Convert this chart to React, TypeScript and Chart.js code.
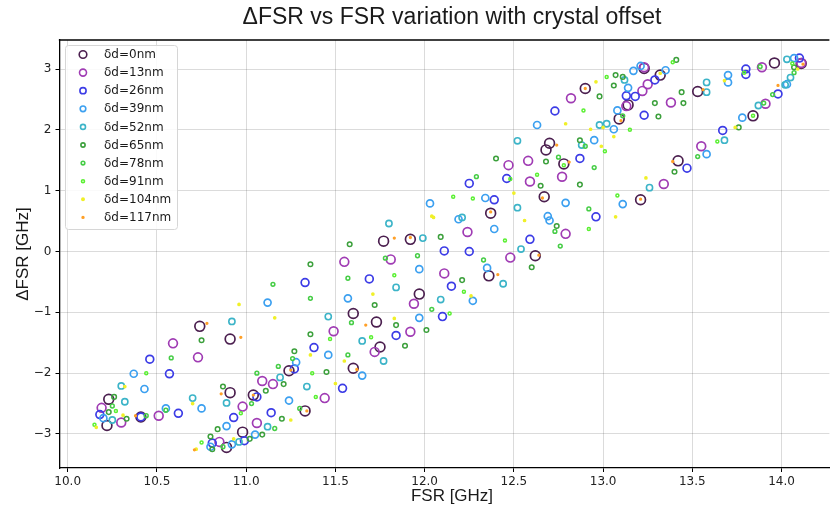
import { useEffect, useRef } from "react";
import { Chart, registerables } from "chart.js";

Chart.register(...registerables);

// Crystal offsets (nm), one scatter series each
const offsetsNm = [0, 13, 26, 39, 52, 65, 78, 91, 104, 117];

// [FSR GHz, ΔFSR GHz] samples per offset
const d0: [number, number][] = [[10.22,-2.86],[10.23,-2.43],[10.41,-2.72],[10.74,-1.23],[10.91,-1.44],[10.91,-2.32],[11.04,-2.36],[10.98,-2.97],[10.89,-3.22],[11.24,-1.96],[11.33,-2.62],[11.60,-1.02],[11.60,-1.92],[11.73,-1.16],[11.75,-1.57],[11.77,0.17],[11.92,0.20],[11.97,-0.70],[12.36,-0.40],[12.37,0.63],[12.62,-0.07],[12.67,0.90],[12.68,1.67],[12.70,1.78],[12.78,1.44],[12.90,2.68],[13.09,2.18],[13.14,2.41],[13.21,0.85],[13.23,3.01],[13.32,2.90],[13.42,1.49],[13.53,2.63],[13.84,2.23],[13.96,3.10],[14.11,3.09]];
const d13: [number, number][] = [[10.59,-1.51],[10.73,-1.74],[10.19,-2.57],[10.30,-2.81],[10.51,-2.70],[10.98,-2.55],[11.06,-2.82],[10.85,-3.13],[11.09,-2.13],[11.15,-2.18],[12.47,1.42],[12.58,1.49],[12.59,1.15],[12.24,0.32],[12.48,-0.10],[11.81,-0.13],[11.55,-0.17],[12.11,-0.36],[11.94,-0.86],[11.92,-1.32],[11.72,-1.65],[11.49,-1.31],[11.44,-2.41],[13.25,2.75],[13.22,2.64],[12.82,2.52],[13.23,3.03],[13.13,2.39],[12.77,1.23],[12.79,0.29],[13.34,1.11],[13.55,1.73],[13.91,2.43],[14.11,3.10],[13.89,3.03],[13.38,2.45]];
const d26: [number, number][] = [[11.33,-0.51],[10.46,-1.77],[10.57,-2.01],[10.18,-2.68],[10.41,-2.72],[10.62,-2.66],[11.06,-2.39],[10.93,-2.73],[10.99,-3.11],[10.81,-3.15],[11.27,-1.93],[11.38,-1.58],[11.14,-2.65],[12.25,1.12],[12.46,1.20],[12.39,0.85],[12.59,0.20],[12.11,0.01],[12.25,0.00],[12.15,-0.57],[11.69,-0.45],[12.10,-1.07],[11.84,-1.38],[11.54,-2.25],[13.29,2.82],[13.18,2.55],[13.13,2.56],[12.73,2.31],[13.23,2.24],[12.87,1.53],[12.96,0.57],[13.47,1.37],[13.67,1.99],[13.98,2.59],[14.10,3.18],[13.80,3.00],[13.80,2.91]];
const d39: [number, number][] = [[11.12,-0.84],[10.37,-2.01],[10.43,-2.26],[10.20,-2.74],[10.55,-2.58],[10.75,-2.58],[10.89,-2.87],[11.05,-3.01],[10.92,-3.17],[10.80,-3.21],[11.28,-1.82],[11.24,-2.45],[12.34,0.88],[12.03,0.79],[12.19,0.53],[12.70,0.51],[12.39,0.37],[12.35,-0.27],[12.27,-0.81],[11.97,-0.29],[11.57,-0.77],[11.97,-1.09],[11.65,-2.04],[11.46,-1.70],[13.35,2.98],[13.14,2.69],[13.21,3.05],[13.17,2.97],[13.08,2.32],[13.06,2.01],[12.63,2.08],[12.95,1.83],[12.79,0.80],[12.69,0.58],[13.11,0.78],[13.58,1.60],[13.78,2.20],[14.03,2.75],[14.07,3.18],[13.70,2.90],[13.70,2.78]];
const d52: [number, number][] = [[10.92,-1.15],[10.30,-2.21],[10.32,-2.47],[10.25,-2.77],[10.70,-2.41],[10.89,-2.49],[10.96,-3.13],[11.19,-2.07],[11.34,-2.22],[11.12,-2.88],[12.21,0.56],[12.52,0.72],[11.80,0.46],[11.99,0.22],[12.54,0.04],[12.44,-0.53],[11.84,-0.59],[12.09,-0.79],[11.65,-1.47],[11.77,-1.80],[11.46,-1.07],[12.52,1.82],[13.12,2.82],[12.98,2.08],[13.02,2.10],[12.88,1.75],[13.26,1.05],[13.68,1.83],[13.87,2.40],[14.02,2.74],[14.05,2.86],[14.03,3.16],[13.58,2.78],[13.58,2.62]];
const d65: [number, number][] = [[11.36,-0.21],[10.75,-1.46],[10.26,-2.39],[10.23,-2.64],[10.33,-2.75],[10.87,-2.22],[10.84,-2.92],[11.09,-3.01],[11.02,-3.08],[10.81,-3.25],[10.80,-3.04],[11.11,-2.29],[11.27,-1.64],[11.21,-2.18],[11.20,-2.75],[12.40,1.53],[12.68,1.48],[12.65,1.08],[11.58,0.12],[12.09,0.24],[12.60,-0.26],[12.21,-0.47],[11.72,-0.88],[12.01,-1.29],[11.84,-1.21],[11.89,-1.55],[11.36,-1.36],[11.45,-1.98],[13.41,3.15],[13.11,2.87],[13.07,2.90],[13.06,2.73],[12.98,2.55],[13.31,2.22],[13.29,2.44],[12.87,1.83],[12.87,1.10],[12.74,0.42],[13.40,1.31],[13.76,2.04],[14.07,3.03],[13.44,2.62],[13.45,2.44]];
const d78: [number, number][] = [[11.15,-0.54],[11.36,-0.77],[10.58,-1.75],[10.25,-2.54],[10.44,-2.70],[10.55,-2.61],[10.87,-3.21],[11.06,-2.00],[11.03,-2.50],[11.18,-1.89],[11.26,-1.76],[11.30,-2.58],[11.16,-2.91],[12.29,1.23],[12.73,0.33],[12.33,-0.14],[11.96,-0.07],[11.78,-0.11],[11.57,-0.44],[12.04,-0.95],[11.59,-1.17],[11.57,-1.70],[13.11,2.23],[12.90,1.73],[12.75,1.55],[12.95,1.38],[12.76,0.09],[12.92,0.70],[13.53,1.56],[13.90,2.44],[13.95,2.58],[14.07,2.94],[13.88,3.04]];
const d91: [number, number][] = [[10.44,-2.00],[10.27,-2.62],[10.15,-2.85],[10.97,-2.66],[10.75,-3.14],[11.39,-2.39],[12.48,1.19],[12.63,1.26],[12.16,0.90],[12.27,0.87],[12.45,0.18],[12.22,-0.66],[11.83,-0.39],[12.14,-1.02],[11.70,-1.41],[11.47,-1.44],[11.37,-2.00],[13.39,3.11],[13.02,2.87],[12.89,2.32],[13.15,2.00],[13.01,1.65],[12.78,1.42],[12.92,0.37],[13.08,0.92],[13.64,1.81],[14.06,3.09],[13.84,2.23],[13.79,2.94]];
const d104: [number, number][] = [[10.96,-0.87],[11.16,-1.09],[10.32,-2.22],[10.31,-2.69],[10.16,-2.89],[10.70,-2.50],[11.36,-1.70],[11.25,-2.77],[10.72,-3.25],[10.93,-3.08],[12.50,0.96],[12.04,0.58],[12.05,0.56],[12.56,0.51],[12.26,-0.73],[11.71,-0.70],[11.83,-1.10],[11.55,-1.80],[11.50,-2.17],[13.32,2.93],[12.96,2.79],[13.00,2.04],[13.06,1.89],[12.93,2.01],[12.79,2.10],[12.99,1.73],[13.07,0.57],[13.24,1.21],[13.74,2.04],[14.09,3.00],[13.68,2.81]];
const d117: [number, number][] = [[10.78,-1.18],[10.97,-1.41],[10.38,-2.70],[10.86,-2.34],[11.04,-2.36],[10.71,-3.26],[11.25,-1.95],[11.34,-2.62],[12.37,0.65],[11.83,0.22],[12.41,-0.38],[11.62,-1.94],[11.67,-1.21],[12.74,1.75],[12.81,1.47],[13.98,2.73],[14.12,3.08],[13.56,2.66],[11.92,0.23],[12.64,-0.06],[12.66,0.88],[13.39,1.48],[13.21,0.86],[12.90,2.68],[13.10,2.15]];

const seriesData = [d0, d13, d26, d39, d52, d65, d78, d91, d104, d117];

const seriesColors = ["#4b1f4f", "#a03cb4", "#3c3ce6", "#3ca0f0", "#3cb4c8", "#3ca03c", "#46cd46", "#5af032", "#f0f028", "#ffa028"];
const pointRadii = [4.9, 4.4, 3.9, 3.5, 3.1, 2.3, 1.9, 1.5, 1.1, 0.9];
const pointBorders = [1.7, 1.7, 1.7, 1.7, 1.6, 1.5, 1.5, 1.5, 1.5, 1.5];
const legendRadii = [3.8, 3.5, 3.1, 2.8, 2.5, 2.1, 1.8, 1.5, 1.2, 0.9];

const xTicks = [10.0, 10.5, 11.0, 11.5, 12.0, 12.5, 13.0, 13.5, 14.0];
const yTicks = [-3, -2, -1, 0, 1, 2, 3];

const titleText = "ΔFSR vs FSR variation with crystal offset";
const xLabel = "FSR [GHz]";
const yLabel = "ΔFSR [GHz]";

const SANS = '"Liberation Sans", Arial, Helvetica, sans-serif';
const TICK_FONT = '"DejaVu Sans", sans-serif';

const decorations = {
  id: "decorations",
  afterDraw(chart: any) {
    const ctx = chart.ctx as CanvasRenderingContext2D;
    const { left, top, right, bottom } = chart.chartArea;
    ctx.save();

    // top spine
    ctx.strokeStyle = "#000";
    ctx.lineWidth = 1.3;
    ctx.beginPath();
    ctx.moveTo(left - 0.65, top);
    ctx.lineTo(right, top);
    ctx.stroke();

    const cx = 452;
    ctx.fillStyle = "#1a1a1a";
    ctx.textAlign = "center";
    ctx.textBaseline = "middle";
    ctx.font = `23px ${SANS}`;
    ctx.fillText(titleText, cx, 18);

    ctx.font = `17px ${SANS}`;
    ctx.fillText(xLabel, cx, 496);

    ctx.save();
    ctx.translate(23.5, (top + bottom) / 2);
    ctx.rotate(-Math.PI / 2);
    ctx.fillText(yLabel, 0, 0);
    ctx.restore();

    // legend
    const bx = 65.5, by = 45.5, bw = 112, bh = 184;
    ctx.beginPath();
    ctx.roundRect(bx, by, bw, bh, 3);
    ctx.fillStyle = "rgba(255,255,255,0.85)";
    ctx.fill();
    ctx.strokeStyle = "#d6d6d6";
    ctx.lineWidth = 1;
    ctx.stroke();

    ctx.textAlign = "left";
    ctx.font = `12px ${TICK_FONT}`;
    offsetsNm.forEach((nm, i) => {
      const y = 54.5 + i * 18.1;
      ctx.beginPath();
      ctx.arc(83, y, legendRadii[i], 0, Math.PI * 2);
      ctx.strokeStyle = seriesColors[i];
      ctx.lineWidth = 1.6;
      ctx.stroke();
      if (i >= 8) {
        ctx.fillStyle = seriesColors[i];
        ctx.fill();
      }
      ctx.fillStyle = "#1a1a1a";
      ctx.fillText(`δd=${nm}nm`, 104, y + 0.5);
    });

    ctx.restore();
  },
};

export default function App() {
  const canvasRef = useRef<HTMLCanvasElement | null>(null);

  useEffect(() => {
    const canvas = canvasRef.current;
    if (!canvas) return;

    const datasets = seriesData.map((pts, i) => ({
      label: `δd=${offsetsNm[i]}nm`,
      data: pts.map(([x, y]) => ({ x, y })),
      pointRadius: pointRadii[i],
      pointHoverRadius: pointRadii[i],
      borderWidth: pointBorders[i],
      pointBorderWidth: pointBorders[i],
      pointBorderColor: seriesColors[i],
      borderColor: seriesColors[i],
      pointBackgroundColor: i >= 8 ? seriesColors[i] : "rgba(0,0,0,0)",
      backgroundColor: i >= 8 ? seriesColors[i] : "rgba(0,0,0,0)",
      order: offsetsNm.length - i,
      showLine: false,
    }));

    const chart = new Chart(canvas, {
      type: "scatter",
      data: { datasets },
      options: {
        responsive: false,
        animation: false,
        events: [],
        layout: { padding: { left: 0, right: 0, top: 40, bottom: 0 } },
        plugins: {
          legend: { display: false },
          tooltip: { enabled: false },
          title: { display: false },
        },
        scales: {
          x: {
            type: "linear",
            min: 9.954,
            max: 14.268,
            afterFit: (s: any) => {
              s.height = 43;
            },
            afterBuildTicks: (s: any) => {
              s.ticks = xTicks.map((v) => ({ value: v }));
            },
            ticks: {
              font: { family: TICK_FONT, size: 12 },
              color: "#222",
              padding: 3,
              maxRotation: 0,
              callback: (v: any) => Number(v).toFixed(1),
            },
            grid: {
              color: "rgba(0,0,0,0.14)",
              lineWidth: 1,
              drawTicks: true,
              tickLength: 4,
              tickColor: "#000",
              tickWidth: 1,
            },
            border: { display: true, color: "#000", width: 1.3 },
          },
          y: {
            type: "linear",
            min: -3.559,
            max: 3.477,
            afterFit: (s: any) => {
              s.width = 59.5;
            },
            afterBuildTicks: (s: any) => {
              s.ticks = yTicks.map((v) => ({ value: v }));
            },
            ticks: {
              font: { family: TICK_FONT, size: 12 },
              color: "#222",
              padding: 4,
              callback: (v: any) => (Number(v) < 0 ? "\u2212" + Math.abs(Number(v)) : String(v)),
            },
            grid: {
              color: "rgba(0,0,0,0.14)",
              lineWidth: 1,
              drawTicks: true,
              tickLength: 4,
              tickColor: "#000",
              tickWidth: 1,
            },
            border: { display: true, color: "#000", width: 1.3 },
          },
        },
      },
      plugins: [decorations],
    });

    return () => chart.destroy();
  }, []);

  return (
    <div style={{ position: "fixed", left: 0, top: 0, width: 836, height: 511, background: "#fff" }}>
      <canvas ref={canvasRef} width={836} height={511} style={{ display: "block", width: 836, height: 511 }} />
    </div>
  );
}
